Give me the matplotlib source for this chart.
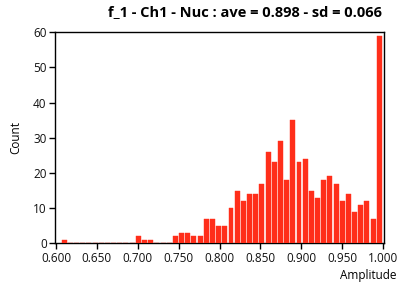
import numpy as np
import matplotlib.pyplot as plt

# histogram counts, 52 bins from ~0.607 to 1.000
counts = [1, 0, 0, 0, 0, 0, 0, 0, 0, 0, 0, 0, 2, 1, 1, 0, 0, 0, 2, 3,
          3, 2, 2, 7, 7, 5, 5, 10, 15, 12, 14, 14, 17, 26, 23, 29, 18, 35, 23, 24,
          15, 13, 18, 19, 17, 12, 14, 9, 11, 12, 7, 59]
bin_lo = 0.607
bin_hi = 1.000
xticks = [0.60, 0.65, 0.70, 0.75, 0.80, 0.85, 0.90, 0.95, 1.00]
yticks = [0, 10, 20, 30, 40, 50, 60]
title = "f_1 - Ch1 - Nuc : ave = 0.898 - sd = 0.066"

plt.rcParams['font.family'] = ['Open Sans', 'DejaVu Sans']

edges = np.linspace(bin_lo, bin_hi, len(counts) + 1)
width = edges[1] - edges[0]

fig = plt.figure(figsize=(4.08, 2.87), dpi=100)
ax = fig.add_axes([55/408, 1 - 243.3/287, 329/408, 211/287])

ax.bar(edges[:-1], counts, width=width * 0.8, align='edge',
       color='#ff2e1a', edgecolor='#ff2e1a', linewidth=0.3, zorder=3)

ax.set_xlim(0.5988, 1.0012)
ax.set_ylim(0, 60)
ax.set_xticks(xticks)
ax.set_xticklabels([f"{t:.3f}" for t in xticks])
ax.set_yticks(yticks)
ax.tick_params(direction='out', length=4, width=1, labelsize=8.5, pad=2,
               labelcolor='#111111')
for s in ax.spines.values():
    s.set_linewidth(1)
    s.set_zorder(2)

ax.set_ylabel("Count", fontsize=8.5, labelpad=8)
fig.text(396/408, 1 - 276/287, "Amplitude", ha='right', va='center', fontsize=8.5)
fig.text(382/408, 1 - 12/287, title, ha='right', va='center',
         fontsize=10.5, fontweight='bold')

fig.savefig("out.png", dpi=100)
